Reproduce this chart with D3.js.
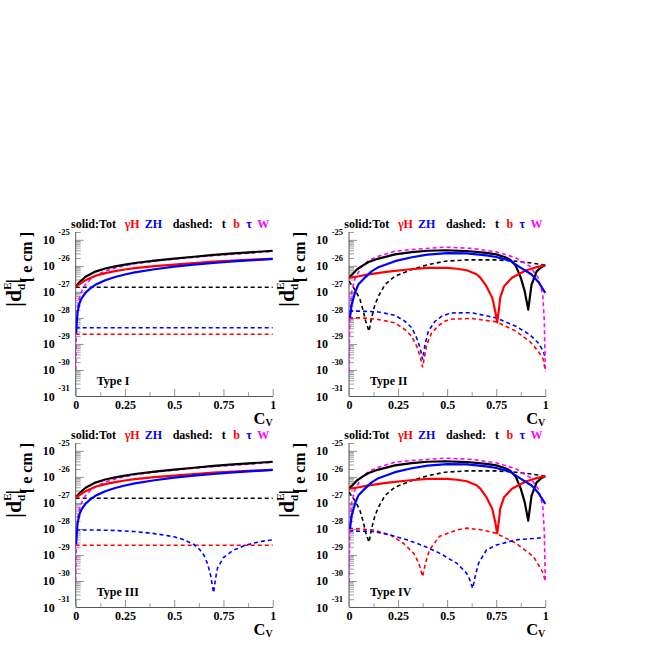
<!DOCTYPE html>
<html><head><meta charset="utf-8">
<script src="https://cdn.jsdelivr.net/npm/d3@7"></script>
<style>
body{margin:0;background:#fff}
text{font-family:"Liberation Serif","Times New Roman",serif;font-weight:bold}
</style>
</head><body><svg id="c" width="654" height="654"></svg>
<script>
// ---------- axis / label data ----------
const cvMajorTicks = [0, 0.25, 0.5, 0.75, 1];
const cvMinorTicks = [0.125, 0.375, 0.625, 0.875];
const cvTickLabels = ["0", "0.25", "0.5", "0.75", "1"];
const yDecades = [-31, -30, -29, -28, -27, -26, -25];
const yDomain = [1e-31, 2e-25];
const panelTitles = ["Type I", "Type II", "Type III", "Type IV"];
const legendSolid = ["solid:Tot", "\u03b3H", "ZH"];
const legendDashed = ["dashed:", "t", "b", "\u03c4", "W"];

// ---------- series: [C_V, log10 |d_d^E| / e cm] ----------
// Type I and Type III (solid lines, t, b, W identical)
const tot13 = [[0,-26.80],[0.02,-26.62],[0.05,-26.42],[0.1,-26.22],[0.15,-26.10],[0.2,-26.02],[0.25,-25.95],[0.3,-25.89],[0.4,-25.80],[0.5,-25.72],[0.6,-25.65],[0.7,-25.58],[0.8,-25.52],[0.9,-25.47],[1,-25.42]];
const gH13 = [[0,-26.80],[0.02,-26.70],[0.05,-26.55],[0.1,-26.38],[0.15,-26.28],[0.2,-26.20],[0.25,-26.14],[0.3,-26.09],[0.4,-26.01],[0.5,-25.95],[0.6,-25.89],[0.7,-25.84],[0.8,-25.80],[0.9,-25.76],[1,-25.73]];
const zH13 = [[0.002,-28.6],[0.005,-28.2],[0.01,-27.75],[0.02,-27.42],[0.03,-27.25],[0.05,-27.03],[0.075,-26.86],[0.1,-26.73],[0.15,-26.55],[0.2,-26.43],[0.25,-26.33],[0.3,-26.25],[0.4,-26.13],[0.5,-26.03],[0.6,-25.95],[0.7,-25.89],[0.8,-25.83],[0.9,-25.78],[1,-25.73]];
const w13 = [[0,-30.0],[0.003,-28.5],[0.006,-28.0],[0.01,-27.6],[0.02,-27.2],[0.03,-26.98],[0.05,-26.72],[0.075,-26.52],[0.1,-26.38],[0.15,-26.2],[0.2,-26.08],[0.25,-25.99],[0.3,-25.92],[0.4,-25.82],[0.5,-25.74],[0.6,-25.67],[0.7,-25.61],[0.8,-25.55],[0.9,-25.50],[1,-25.45]];
const t13 = [[0,-26.82],[1,-26.82]];
const b13 = [[0,-28.63],[1,-28.63]];
const tau1 = [[0,-28.38],[1,-28.38]];
const tau3 = [[0,-28.04],[0.1,-28.04],[0.2,-28.06],[0.3,-28.10],[0.4,-28.18],[0.5,-28.30],[0.55,-28.42],[0.6,-28.60],[0.63,-28.80],[0.65,-29.00],[0.67,-29.35],[0.685,-29.8],[0.70,-30.45],[0.71,-29.9],[0.72,-29.5],[0.75,-29.1],[0.8,-28.82],[0.85,-28.66],[0.9,-28.55],[0.95,-28.47],[1,-28.42]];

// Type II and Type IV (solid lines, t, W identical)
const tot24 = [[0,-26.46],[0.02,-26.30],[0.04,-26.14],[0.065,-26.01],[0.1,-25.85],[0.15,-25.72],[0.234,-25.56],[0.32,-25.47],[0.4,-25.42],[0.49,-25.40],[0.6,-25.43],[0.7,-25.50],[0.75,-25.56],[0.8,-25.68],[0.82,-25.76],[0.85,-26.00],[0.875,-26.45],[0.895,-26.97],[0.913,-27.68],[0.93,-26.72],[0.956,-26.21],[0.98,-26.05],[1,-25.97]];
const gH24 = [[0,-26.46],[0.05,-26.40],[0.1,-26.33],[0.2,-26.22],[0.3,-26.14],[0.4,-26.08],[0.5,-26.08],[0.55,-26.11],[0.6,-26.17],[0.65,-26.32],[0.67,-26.46],[0.7,-26.78],[0.73,-27.23],[0.745,-27.74],[0.755,-28.17],[0.765,-27.6],[0.77,-27.23],[0.79,-26.78],[0.83,-26.46],[0.9,-26.18],[0.95,-26.06],[1,-25.97]];
const zH24 = [[0.005,-28.0],[0.0136,-27.49],[0.03,-27.04],[0.0475,-26.72],[0.08,-26.46],[0.115,-26.21],[0.15,-26.05],[0.234,-25.82],[0.32,-25.67],[0.4,-25.57],[0.5,-25.51],[0.6,-25.52],[0.7,-25.6],[0.75,-25.66],[0.82,-25.8],[0.87,-26.05],[0.93,-26.33],[0.965,-26.62],[1,-27.04]];
const w24 = [[0,-30.05],[0.002,-28.8],[0.005,-27.8],[0.0136,-27.0],[0.03,-26.5],[0.065,-26.01],[0.107,-25.76],[0.15,-25.63],[0.234,-25.44],[0.32,-25.37],[0.49,-25.28],[0.625,-25.33],[0.75,-25.46],[0.85,-25.69],[0.92,-26.01],[0.964,-26.46],[0.987,-27.1],[0.995,-28.13],[1,-30.05]];
const t24 = [[0,-26.59],[0.03,-26.91],[0.056,-27.29],[0.073,-27.74],[0.085,-28.13],[0.102,-28.51],[0.115,-28.0],[0.132,-27.49],[0.15,-27.17],[0.183,-26.72],[0.234,-26.4],[0.32,-26.14],[0.404,-25.95],[0.49,-25.82],[0.6,-25.77],[0.75,-25.77],[0.85,-25.82],[0.92,-25.88],[1,-25.97]];
const tau2 = [[0,-27.74],[0.065,-27.74],[0.15,-27.77],[0.234,-27.9],[0.285,-28.13],[0.32,-28.38],[0.345,-28.77],[0.362,-29.15],[0.375,-29.6],[0.387,-29.03],[0.404,-28.51],[0.438,-28.13],[0.472,-27.94],[0.52,-27.81],[0.625,-27.8],[0.75,-28.0],[0.85,-28.32],[0.92,-28.64],[0.964,-28.96],[0.99,-29.28],[1,-29.54]];
const b2 = [[0,-28.0],[0.065,-28.0],[0.15,-28.06],[0.234,-28.19],[0.285,-28.45],[0.32,-28.71],[0.345,-29.09],[0.362,-29.47],[0.375,-29.9],[0.396,-29.03],[0.421,-28.58],[0.455,-28.3],[0.49,-28.12],[0.52,-28.05],[0.625,-28.02],[0.75,-28.15],[0.85,-28.51],[0.92,-28.9],[0.964,-29.28],[0.99,-29.6],[1,-30.05]];
const b4 = [[0,-27.97],[0.124,-28.04],[0.21,-28.23],[0.277,-28.55],[0.33,-28.94],[0.355,-29.3],[0.375,-29.83],[0.39,-29.3],[0.41,-28.81],[0.46,-28.29],[0.55,-28.04],[0.6,-27.97],[0.68,-28.04],[0.75,-28.17],[0.85,-28.55],[0.94,-29.06],[0.99,-29.71],[1,-30.03]];
const tau4 = [[0,-28.08],[0.124,-28.1],[0.21,-28.23],[0.295,-28.42],[0.38,-28.65],[0.463,-28.94],[0.55,-29.32],[0.6,-29.71],[0.615,-29.95],[0.63,-30.28],[0.645,-29.75],[0.66,-29.32],[0.70,-28.81],[0.75,-28.62],[0.85,-28.42],[0.955,-28.36],[1,-28.32]];

const BLACK="#000000", RED="#ff0000", BLUE="#0000ff", MAG="#ff00ff";
const panelSeries = [
  {t:t13, b:b13, tau:tau1, w:w13, tot:tot13, gH:gH13, zH:zH13},
  {t:t24, b:b2,  tau:tau2, w:w24, tot:tot24, gH:gH24, zH:zH24},
  {t:t13, b:b13, tau:tau3, w:w13, tot:tot13, gH:gH13, zH:zH13},
  {t:t24, b:b4,  tau:tau4, w:w24, tot:tot24, gH:gH24, zH:zH24}
];

// ---------- layout ----------
const frames = [
  {x0:75.7, x1:272.7, y0:232, y1:396},
  {x0:349,  x1:545.3, y0:232, y1:396},
  {x0:75.7, x1:272.7, y0:443, y1:607},
  {x0:349,  x1:545.3, y0:443, y1:607}
];

const svg = d3.select("#c");
svg.append("rect").attr("width",654).attr("height",654).attr("fill","#fff");

frames.forEach((f, i) => {
  const x = d3.scaleLinear().domain([0,1]).range([f.x0, f.x1]);
  const y = d3.scaleLog().domain(yDomain).range([f.y1, f.y0]);
  const g = svg.append("g");
  const clipId = "clip"+i;
  svg.append("clipPath").attr("id", clipId).append("rect")
    .attr("x", f.x0).attr("y", f.y0 - 2).attr("width", f.x1 - f.x0 + 2).attr("height", f.y1 - f.y0 + 2);

  // y minor & major ticks (inside)
  const minorVals = [];
  yDecades.forEach(e => { for (let k = 2; k <= 9; k++) { const v = k * Math.pow(10, e); if (v <= yDomain[1]) minorVals.push(v); } });
  const majorVals = yDecades.map(e => Math.pow(10, e));
  g.append("g").attr("transform", `translate(${f.x0},0)`)
    .call(d3.axisLeft(y).tickValues(minorVals).tickSize(-5).tickFormat(""))
    .call(s => { s.select(".domain").remove(); s.selectAll("line").attr("stroke","#a0a0a0"); });
  g.append("g").attr("transform", `translate(${f.x0},0)`)
    .call(d3.axisLeft(y).tickValues(majorVals).tickSize(-8).tickFormat(""))
    .call(s => { s.select(".domain").remove(); s.selectAll("line").attr("stroke","#909090"); });
  // y axis line
  g.append("line").attr("x1", f.x0).attr("x2", f.x0).attr("y1", f.y0).attr("y2", f.y1)
    .attr("stroke", "#555").attr("stroke-width", 1);
  // y labels: 10^{e}
  yDecades.forEach(e => {
    const yy = y(Math.pow(10, e));
    g.append("text").attr("x", f.x0 - 21).attr("y", yy + 4.5).attr("text-anchor","end")
      .attr("font-size", 12).text("10");
    g.append("text").attr("x", f.x0 - 6).attr("y", yy - 5).attr("text-anchor","end")
      .attr("font-size", 8.5).text(String(e));
  });

  // x ticks
  g.append("g").attr("transform", `translate(0,${f.y1})`)
    .call(d3.axisBottom(x).tickValues(cvMinorTicks).tickSize(-4).tickFormat(""))
    .call(s => { s.select(".domain").remove(); s.selectAll("line").attr("stroke","#a0a0a0"); });
  g.append("g").attr("transform", `translate(0,${f.y1})`)
    .call(d3.axisBottom(x).tickValues(cvMajorTicks).tickSize(-7).tickSizeOuter(0).tickPadding(4)
      .tickFormat((d, j) => cvTickLabels[j]))
    .call(s => {
      s.select(".domain").attr("stroke", "#555");
      s.selectAll("line").attr("stroke", "#909090");
      s.selectAll("text").attr("font-size", 12).attr("fill", "#000")
        .attr("font-family", '"Liberation Serif","Times New Roman",serif').attr("font-weight","bold");
    });

  // x title C_V
  const xt = g.append("text").attr("x", f.x1).attr("y", f.y1 + 28).attr("text-anchor","end").attr("font-size", 16.5);
  xt.append("tspan").text("C");
  xt.append("tspan").attr("font-size", 10).attr("dy", 1.5).text("V");

  // y title
  const yt1 = g.append("text").attr("transform", `translate(${f.x0 - 55},${f.y0 + 47}) rotate(-90)`)
    .attr("text-anchor", "end").attr("font-size", 22);
  yt1.append("tspan").text("|d");
  yt1.append("tspan").attr("font-size", 11).attr("dy", -10).text("E");
  yt1.append("tspan").attr("font-size", 11).attr("dx", -7.5).attr("dy", 14).text("d");
  yt1.append("tspan").attr("dy", -4).text("|");
  g.append("text").attr("transform", `translate(${f.x0 - 44},${f.y0}) rotate(-90)`)
    .attr("text-anchor", "end").attr("font-size", 16).text("[ e cm ]");

  // legend header
  const ly = f.y0 - 4;
  const legItems = [
    {s: legendSolid[0], dx: -4.7, c: BLACK},
    {s: legendSolid[1], dx: 49, c: RED},
    {s: legendSolid[2], dx: 69, c: BLUE},
    {s: legendDashed[0], dx: 97, c: BLACK},
    {s: legendDashed[1], dx: 146, c: BLACK},
    {s: legendDashed[2], dx: 157.5, c: RED},
    {s: legendDashed[3], dx: 170.5, c: BLUE},
    {s: legendDashed[4], dx: 181.5, c: MAG}
  ];
  legItems.forEach(it => {
    g.append("text").attr("x", f.x0 + it.dx).attr("y", ly).attr("font-size", 12).attr("fill", it.c).text(it.s);
  });

  // panel label
  g.append("text").attr("x", f.x0 + 21).attr("y", f.y1 - 11).attr("font-size", 12).text(panelTitles[i]);

  // curves
  const line = d3.line().x(d => x(d[0])).y(d => y(Math.pow(10, d[1])));
  const cg = g.append("g").attr("clip-path", `url(#${clipId})`).attr("fill", "none");
  const ps = panelSeries[i];
  const dashed = [[ps.t, BLACK], [ps.b, RED], [ps.tau, BLUE], [ps.w, MAG]];
  const solid = [[ps.tot, BLACK], [ps.gH, RED], [ps.zH, BLUE]];
  dashed.forEach(([d, c]) => cg.append("path").datum(d).attr("d", line)
    .attr("stroke", c).attr("stroke-width", 1.6).attr("stroke-dasharray", "4,3"));
  solid.forEach(([d, c]) => cg.append("path").datum(d).attr("d", line)
    .attr("stroke", c).attr("stroke-width", 2.2).attr("stroke-linejoin","round"));
});
</script>
</body></html>
